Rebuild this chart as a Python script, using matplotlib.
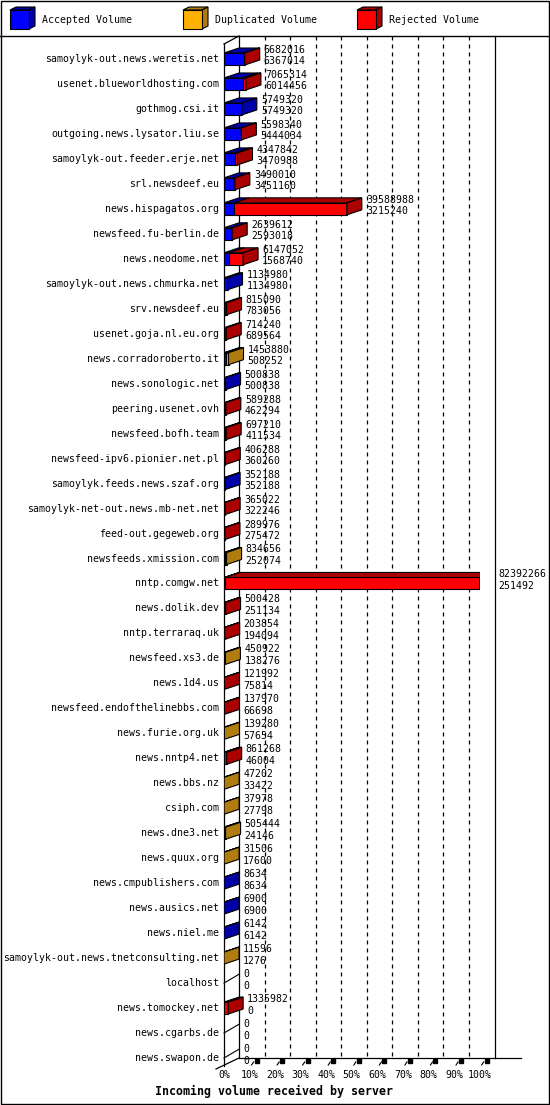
import matplotlib
matplotlib.use("Agg")
import matplotlib.pyplot as plt
from matplotlib.patches import Polygon, Rectangle
from matplotlib.lines import Line2D

# ---------------- data ----------------
servers = [
    "samoylyk-out.news.weretis.net", "usenet.blueworldhosting.com", "gothmog.csi.it",
    "outgoing.news.lysator.liu.se", "samoylyk-out.feeder.erje.net", "srl.newsdeef.eu",
    "news.hispagatos.org", "newsfeed.fu-berlin.de", "news.neodome.net",
    "samoylyk-out.news.chmurka.net", "srv.newsdeef.eu", "usenet.goja.nl.eu.org",
    "news.corradoroberto.it", "news.sonologic.net", "peering.usenet.ovh",
    "newsfeed.bofh.team", "newsfeed-ipv6.pionier.net.pl", "samoylyk.feeds.news.szaf.org",
    "samoylyk-net-out.news.mb-net.net", "feed-out.gegeweb.org", "newsfeeds.xmission.com",
    "nntp.comgw.net", "news.dolik.dev", "nntp.terraraq.uk", "newsfeed.xs3.de",
    "news.1d4.us", "newsfeed.endofthelinebbs.com", "news.furie.org.uk", "news.nntp4.net",
    "news.bbs.nz", "csiph.com", "news.dne3.net", "news.quux.org", "news.cmpublishers.com",
    "news.ausics.net", "news.niel.me", "samoylyk-out.news.tnetconsulting.net", "localhost",
    "news.tomockey.net", "news.cgarbs.de", "news.swapon.de",
]
total_volume = [
    6682016, 7065314, 5749320, 5598340, 4347842, 3490010, 39588988, 2639612, 6147052,
    1134980, 815090, 714240, 1453880, 500838, 589288, 697210, 406288, 352188, 365022,
    289976, 834656, 82392266, 500428, 203854, 450922, 121992, 137970, 139280, 861268,
    47202, 37978, 505444, 31506, 8634, 6900, 6142, 11596, 0, 1335982, 0, 0,
]
accepted_volume = [
    6367014, 6014456, 5749320, 5444034, 3470988, 3451160, 3215240, 2593018, 1568740,
    1134980, 783056, 689564, 508252, 500838, 462294, 411534, 360260, 352188, 322246,
    275472, 252074, 251492, 251134, 194094, 138276, 75814, 66698, 57654, 46004,
    33422, 27798, 24146, 17600, 8634, 6900, 6142, 1276, 0, 0, 0, 0,
]
# what the non-accepted remainder is: R = rejected, D = duplicated
remainder_kind = [
    "R", "R", "R", "R", "R", "R", "R", "R", "R", "R", "R", "R", "D", "R", "R", "R",
    "R", "R", "R", "R", "D", "R", "R", "R", "D", "R", "R", "D", "R", "D", "D", "D",
    "D", "R", "R", "R", "D", "R", "R", "R", "R",
]
tick_pcts = [0, 10, 20, 30, 40, 50, 60, 70, 80, 90, 100]
legend_labels = ["Accepted Volume", "Duplicated Volume", "Rejected Volume"]
x_title = "Incoming volume received by server"

# ---------------- style ----------------
W, H = 550, 1105
FONT = "DejaVu Sans Mono"
FS = 7.1
COL = {
    "A": ("#0000ff", "#0000a8"),
    "D": ("#ffb000", "#b07c10"),
    "R": ("#ff0000", "#aa0000"),
}
X0, X1 = 224.0, 479.6          # front 0% and 100% (pixels)
ROW0, ROWSTEP = 59.0, 24.975   # first row centre and row step (pixels)
TOP_PX, FLOOR_PX = 36.0, 1066.0

fig = plt.figure(figsize=(W / 100, H / 100), dpi=100)

# overlay axes in pixel units for frame & legend
ov = fig.add_axes([0, 0, 1, 1])
ov.set_xlim(0, W)
ov.set_ylim(H, 0)
ov.axis("off")
ov.add_patch(Rectangle((0.5, 0.5), W - 1.5, H - 1.5, fill=False, ec="black", lw=1.0))
ov.add_line(Line2D([0, W], [35.5, 35.5], color="black", lw=1.0))

leg_x = [10, 183, 357]
for lx, lab, key in zip(leg_x, legend_labels, ["A", "D", "R"]):
    fr, dk = COL[key]
    s, d, dy = 19, 6, 3
    ov.add_patch(Polygon([(lx, 10), (lx + s, 10), (lx + s + d, 10 - dy), (lx + d, 10 - dy)],
                         closed=True, fc=dk, ec="black", lw=0.8))
    ov.add_patch(Polygon([(lx + s, 10), (lx + s + d, 10 - dy), (lx + s + d, 10 + s - dy), (lx + s, 10 + s)],
                         closed=True, fc=dk, ec="black", lw=0.8))
    ov.add_patch(Rectangle((lx, 10), s, s, fc=fr, ec="black", lw=0.8))
    ov.text(lx + 32, 20, lab, fontsize=FS, family=FONT, va="center", ha="left")

ov.text(274, 1091, x_title, fontsize=8.4, family=FONT, fontweight="bold",
        ha="center", va="center")

# main axes: x in percent, y in row index
ax = fig.add_axes([X0 / W, 1 - FLOOR_PX / H, (X1 - X0) / W, (FLOOR_PX - TOP_PX) / H])
ax.set_xlim(0, 100)
ax.set_ylim((FLOOR_PX - ROW0) / ROWSTEP, (TOP_PX - ROW0) / ROWSTEP)
ax.axis("off")

pxx = 100.0 / (X1 - X0)   # percent per pixel
pxy = 1.0 / ROWSTEP       # rows per pixel
bdx, bdy = 15 * pxx, -5 * pxy    # bar depth
fdx, fdy = 15 * pxx, -8 * pxy    # floor depth
bh = 12 * pxy

def row_of(px):
    return (px - ROW0) / ROWSTEP

ytop = row_of(TOP_PX)
yfloor = row_of(FLOOR_PX)

# back wall grid
for p in tick_pcts[1:-1]:
    ax.plot([p + fdx, p + fdx], [ytop, yfloor + fdy], color="black", lw=0.9,
            ls=(0, (3.2, 3.2)), zorder=1, clip_on=False)
ax.plot([fdx, fdx], [ytop, yfloor + fdy], color="black", lw=0.9, zorder=1, clip_on=False)
ax.plot([100 + fdx, 100 + fdx], [ytop, yfloor + fdy], color="black", lw=0.9, zorder=1, clip_on=False)
ax.plot([0, 0], [ytop - fdy, yfloor], color="black", lw=0.9, zorder=1, clip_on=False)
ax.plot([0, fdx], [ytop - fdy, ytop], color="black", lw=0.9, zorder=1, clip_on=False)
# floor
ax.plot([fdx, 100 + fdx + 26 * pxx], [yfloor + fdy, yfloor + fdy], color="black", lw=0.9,
        zorder=1, clip_on=False)
ax.plot([-8 * pxx, fdx], [yfloor + 3 * pxy, yfloor + fdy], color="black", lw=0.9,
        zorder=1, clip_on=False)
for p in tick_pcts[1:]:
    ax.plot([p + 2 * pxx, p + 4 * pxx], [yfloor - 1 * pxy, yfloor - 4 * pxy], color="black",
            lw=0.8, zorder=2, clip_on=False)
    ax.plot([p + 7 * pxx], [yfloor - 5 * pxy], marker="s", ms=2.2, color="black",
            zorder=2, clip_on=False)
for p in tick_pcts:
    ax.text(p, row_of(1075), f"{p}%", fontsize=FS, family=FONT, ha="center", va="center",
            clip_on=False)

vmax = max(total_volume)
for i, name in enumerate(servers):
    ax.text(-5 * pxx, i, name, fontsize=FS, family=FONT, ha="right", va="center", clip_on=False)
    acc = accepted_volume[i] / vmax * 100
    rest = (total_volume[i] - accepted_volume[i]) / vmax * 100
    segs = [(acc, "A"), (rest, remainder_kind[i])]
    segs = [s for s in segs if s[0] > 0]
    top = i - bh / 2
    bot = i + bh / 2
    left = 0.0
    for k, (ln, key) in enumerate(segs):
        fr, dk = COL[key]
        ax.barh(i, ln, left=left, height=bh, color=fr, edgecolor="black", lw=0.8, zorder=5)
        ax.add_patch(Polygon([(left, top), (left + ln, top), (left + ln + bdx, top + bdy),
                              (left + bdx, top + bdy)], closed=True, fc=dk, ec="black",
                             lw=0.8, zorder=5))
        if k == len(segs) - 1:
            e = left + ln
            ax.add_patch(Polygon([(e, top), (e + bdx, top + bdy), (e + bdx, bot + bdy), (e, bot)],
                                 closed=True, fc=dk, ec="black", lw=0.8, zorder=5))
        left += ln
    if not segs:
        ax.plot([0, fdx], [i, i + fdy * 1.1], color="black", lw=0.8, zorder=5, clip_on=False)
    end = left + 19 * pxx
    ax.text(end, i - 9 * pxy, f"{total_volume[i]}", fontsize=FS, family=FONT,
            ha="left", va="center", zorder=6, clip_on=False)
    ax.text(end, i + 2.5 * pxy, f"{accepted_volume[i]}", fontsize=FS, family=FONT,
            ha="left", va="center", zorder=6, clip_on=False)

fig.savefig("out.png", dpi=100)
